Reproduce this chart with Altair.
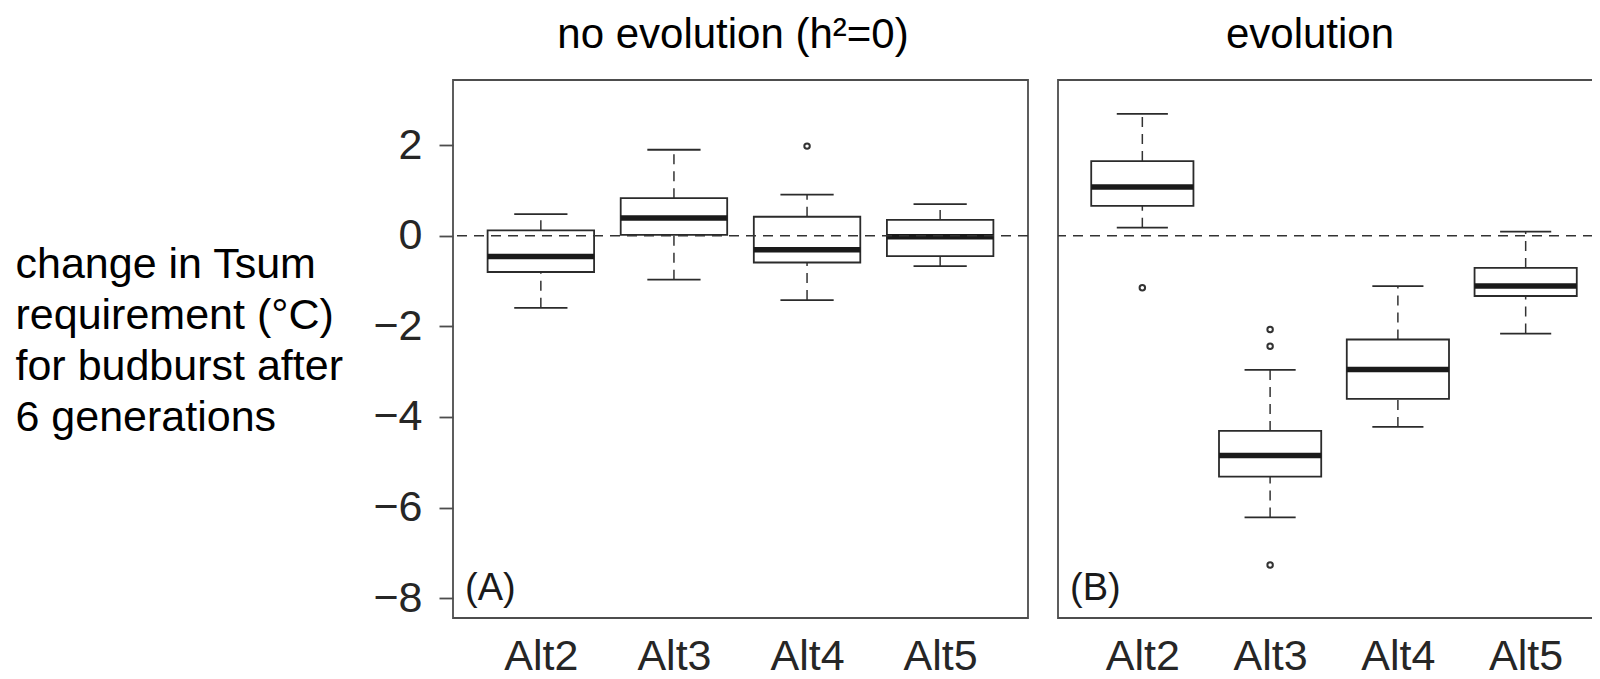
import altair as alt
import pandas as pd

# ---------------- data ----------------
categories = ["Alt2", "Alt3", "Alt4", "Alt5"]

# Panel (A): no evolution (h2 = 0)
a_low = [-1.59, -0.97, -1.42, -0.67]
a_q1 = [-0.80, 0.02, -0.59, -0.45]
a_med = [-0.46, 0.39, -0.31, -0.02]
a_q3 = [0.12, 0.83, 0.42, 0.35]
a_high = [0.48, 1.90, 0.91, 0.70]
a_out_cat = ["Alt4"]
a_out_val = [1.98]

# Panel (B): evolution
b_low = [0.18, -6.22, -4.22, -2.16]
b_q1 = [0.66, -5.32, -3.60, -1.33]
b_med = [1.08, -4.85, -2.95, -1.11]
b_q3 = [1.65, -4.31, -2.29, -0.71]
b_high = [2.69, -2.96, -1.11, 0.09]
b_out_cat = ["Alt2", "Alt3", "Alt3", "Alt3"]
b_out_val = [-1.15, -2.07, -2.44, -7.27]

panel_titles = ["no evolution (h²=0)", "evolution"]
panel_letters = ["(A)", "(B)"]
reference_value = [0]

y_ticks = [-8, -6, -4, -2, 0, 2]
y_domain = [-8.44, 3.44]
y_title = ["change in Tsum", "requirement (°C)", "for budburst after", "6 generations"]

FONT = "Liberation Sans"
H = 538


def panel(low, q1, med, q3, high, out_cat, out_val, width, title, title_x, letter, show_y):
    df = pd.DataFrame({"cat": categories, "low": low, "q1": q1, "med": med, "q3": q3, "high": high})
    odf = pd.DataFrame({"cat": out_cat, "val": out_val})
    tdf = pd.DataFrame({"title": [title], "letter": [letter]})
    zdf = pd.DataFrame({"ref": reference_value})
    step = width / 4.32
    boxw = 0.8 * step
    capw = 0.4 * step

    xsc = alt.Scale(type="point", domain=categories, padding=0.66)
    xax = alt.Axis(title=None, ticks=False, tickSize=0, domain=False, labelAngle=0,
                   labelFontSize=43, labelFont=FONT, labelColor="#262626", labelPadding=17,
                   labelFontWeight="normal", grid=False)
    ysc = alt.Scale(domain=y_domain, nice=False, zero=False)
    if show_y:
        yax = alt.Axis(values=y_ticks, title=y_title, titleAngle=0, titleAlign="left",
                       titleBaseline="alphabetic", titleX=-438, titleY=197,
                       titleLineHeight=51, titleFontSize=43, titleFont=FONT,
                       titleFontWeight="normal", titleColor="#000000",
                       labelFontSize=43, labelFont=FONT, labelColor="#262626",
                       labelFontWeight="normal",
                       labelPadding=17, tickSize=14, tickWidth=1.8, tickColor="#4d4d4d",
                       domain=False, grid=False)
    else:
        yax = None

    X = alt.X("cat:N", scale=xsc, axis=xax)
    base = alt.Chart(df)

    w_up = base.mark_rule(strokeDash=[10, 7], strokeWidth=1.5, color="#333333", opacity=1).encode(
        x=X, y=alt.Y("q3:Q", scale=ysc, axis=yax), y2="high:Q")
    w_lo = base.mark_rule(strokeDash=[10, 7], strokeWidth=1.5, color="#333333", opacity=1).encode(
        x=X, y=alt.Y("low:Q", scale=ysc, axis=yax), y2="q1:Q")
    cap_up = base.mark_tick(orient="horizontal", size=capw, thickness=1.8, color="#2b2b2b",
                            opacity=1).encode(
        x=X, y=alt.Y("high:Q", scale=ysc, axis=yax))
    cap_lo = base.mark_tick(orient="horizontal", size=capw, thickness=1.8, color="#2b2b2b",
                            opacity=1).encode(
        x=X, y=alt.Y("low:Q", scale=ysc, axis=yax))
    box = base.mark_bar(size=boxw, fill="white", stroke="#2b2b2b", strokeWidth=1.8,
                        opacity=1).encode(
        x=X, y=alt.Y("q1:Q", scale=ysc, axis=yax), y2="q3:Q")
    median = base.mark_tick(orient="horizontal", size=boxw, thickness=5.5, color="#1a1a1a",
                            opacity=1).encode(
        x=X, y=alt.Y("med:Q", scale=ysc, axis=yax))
    outl = alt.Chart(odf).mark_point(shape="circle", filled=False, size=30, strokeWidth=2,
                                     color="#333333", opacity=1).encode(
        x=X, y=alt.Y("val:Q", scale=ysc, axis=yax))
    zero = alt.Chart(zdf).mark_rule(strokeDash=[10, 7], strokeWidth=1.4, color="#333333",
                                    opacity=1).encode(
        y=alt.Y("ref:Q", scale=ysc, axis=yax))
    ttl = alt.Chart(tdf).mark_text(fontSize=42, font=FONT, fontWeight="normal",
                                   color="#000000", align="center", baseline="alphabetic").encode(
        text="title:N", x=alt.value(title_x), y=alt.value(-32))
    lab = alt.Chart(tdf).mark_text(fontSize=38, font=FONT, fontWeight="normal",
                                   color="#1a1a1a", align="left", baseline="alphabetic").encode(
        text="letter:N", x=alt.value(12), y=alt.value(520))

    return alt.layer(w_up, w_lo, cap_up, cap_lo, box, median, outl, zero, ttl, lab).properties(
        width=width, height=H)


pa = panel(a_low, a_q1, a_med, a_q3, a_high, a_out_cat, a_out_val, 575,
           panel_titles[0], 280, panel_letters[0], True)
pb = panel(b_low, b_q1, b_med, b_q3, b_high, b_out_cat, b_out_val, 552,
           panel_titles[1], 252, panel_letters[1], False)

# svg kept inside the 1600x679 window (8px page margin) so nothing scrolls
SVG_W, SVG_H = 1584, 663
PAD_L, PAD_T = 445, 72   # origin of panel (A)'s plot area inside the svg

chart = alt.hconcat(pa, pb, spacing=26).properties(
    autosize=alt.AutoSizeParams(type="none"),
    padding={"left": PAD_L, "top": PAD_T, "right": SVG_W - PAD_L, "bottom": SVG_H - PAD_T},
    background="white",
).configure_view(stroke="#4d4d4d", strokeWidth=1.8)

chart.save("out.html", embed_options={"renderer": "svg", "actions": False})
